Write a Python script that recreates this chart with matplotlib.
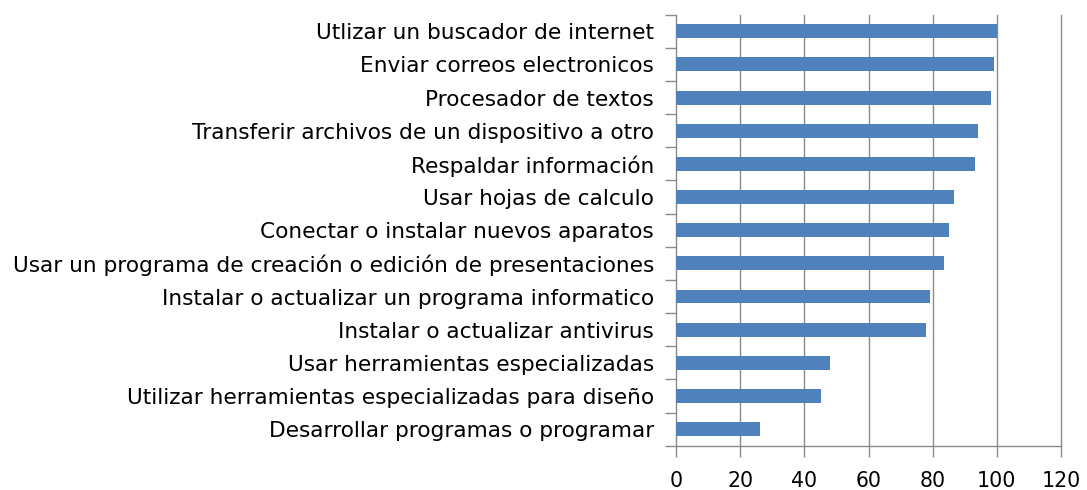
import matplotlib
matplotlib.use("Agg")
import matplotlib.pyplot as plt
import numpy as np

# categorias (de abajo hacia arriba)
categorias = [
    "Desarrollar programas o programar",
    "Utilizar herramientas especializadas para diseño",
    "Usar herramientas especializadas",
    "Instalar o actualizar antivirus",
    "Instalar o actualizar un programa informatico",
    "Usar un programa de creación o edición de presentaciones",
    "Conectar o instalar nuevos aparatos",
    "Usar hojas de calculo",
    "Respaldar información",
    "Transferir archivos de un dispositivo a otro",
    "Procesador de textos",
    "Enviar correos electronicos",
    "Utlizar un buscador de internet",
]
valores = [26.3, 45.2, 48.0, 78.0, 79.3, 83.6, 85.1, 86.7, 93.2, 94.1, 98.1, 99.1, 100.0]
x_ticks = [0, 20, 40, 60, 80, 100, 120]

plt.rcParams['font.family'] = ['DejaVu Sans']

fig = plt.figure(figsize=(10.87, 4.90), dpi=100)
ax = fig.add_axes([676 / 1087, 44.3 / 490, 385 / 1087, 431 / 490])

y = np.arange(len(categorias))
ax.barh(y, valores, height=0.42, color='#4F81BD', zorder=3)

ax.set_xlim(0, 120)
ax.set_ylim(-0.5, len(categorias) - 0.5)
ax.set_xticks(x_ticks)
ax.set_xticklabels([str(v) for v in x_ticks], fontsize=14.8)
ax.set_yticks(y)
ax.set_yticklabels(categorias, fontsize=15.6)
ax.set_yticks(np.arange(-0.5, len(categorias), 1), minor=True)

gris = '#8a8a8a'
# lineas verticales de la cuadricula (sin recortar en el borde)
for xv in x_ticks[1:]:
    ax.axvline(xv, color=gris, linewidth=1.0, zorder=0, clip_on=False)
ax.tick_params(axis='y', which='major', length=0, pad=16)
ax.tick_params(axis='y', which='minor', length=8, width=1.0, color=gris)
ax.tick_params(axis='x', length=8, width=1.0, color=gris, pad=10)
for s in ['top', 'right']:
    ax.spines[s].set_visible(False)
for s in ['left', 'bottom']:
    ax.spines[s].set_color(gris)
    ax.spines[s].set_linewidth(1.0)

fig.savefig("out.png", dpi=100)
